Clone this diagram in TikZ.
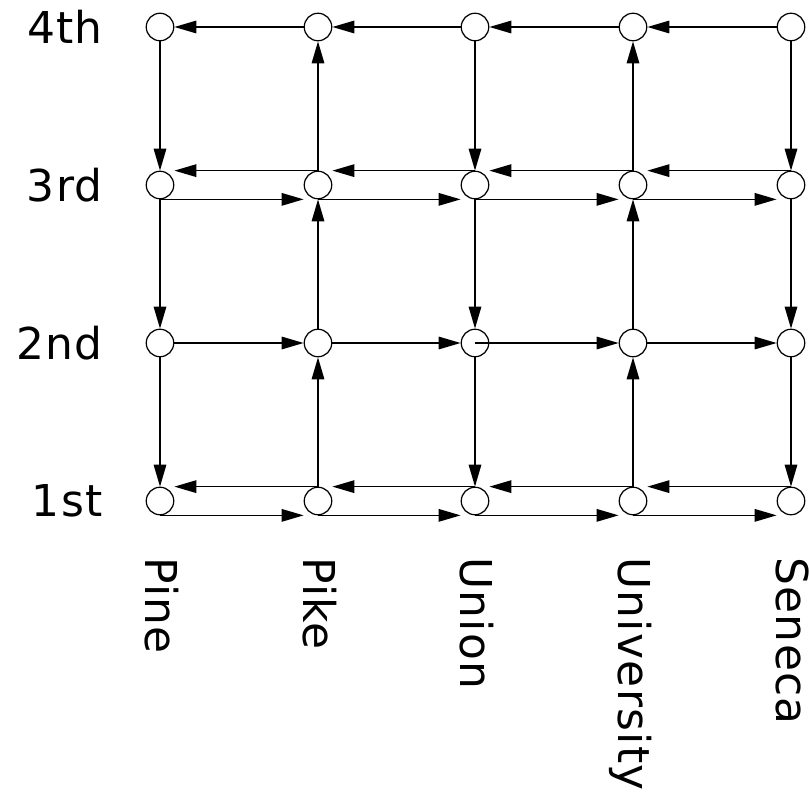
\documentclass[tikz,border=0pt]{standalone}
\usepackage{fontspec}
\setmainfont{DejaVu Sans}[LetterSpace=3]
\usetikzlibrary{arrows.meta}

\begin{document}
\begin{tikzpicture}[
    x=0.02cm, y=-0.02cm,
    corner/.style={circle, draw, line width=0.7pt, minimum size=0.55cm, inner sep=0pt},
    rowname/.style={anchor=east, inner sep=0pt, font=\fontsize{25}{30}\selectfont},
    colname/.style={rowname, anchor=base west, rotate=-90},
    arr/.style={-{Triangle[length=4.4mm, width=2.5mm]}, line width=0.9pt}
]
\useasboundingbox (0,0) rectangle (809,794);

% intersections
\foreach \s/\x in {pine/160, pike/318, union/475, univ/633, seneca/791}
  \foreach \a/\y in {4/27, 3/185, 2/343, 1/501}
    \node[corner] (\s\a) at (\x,\y) {};

% avenue and street names
\foreach \a/\t/\y in {4/4th/27, 3/3rd/185, 2/2nd/343, 1/1st/501}
  \node[rowname] (av\a) at (103,\y) {\t};
\foreach \s/\t/\x in {pine/Pine/160, pike/Pike/318, union/Union/475, univ/University/633, seneca/Seneca/791}
  \node[colname] (\s lbl) at (\x-15,557) {\t};

% one-way: 4th westbound, 2nd eastbound
\foreach \a/\b in {seneca/univ, univ/union, union/pike, pike/pine}
  \draw[arr] (\a4) -- (\b4);
\foreach \a/\b in {pine/pike, pike/union, univ/seneca}
  \draw[arr] (\a2) -- (\b2);
\draw[arr] (union2.center) -- (univ2.west);

% two-way: 3rd and 1st
\foreach \r in {3,1}{
  \foreach \a/\b in {seneca/univ, univ/union, union/pike, pike/pine}
    \draw[arr] (\a\r.north) -- (\a\r.north -| \b\r.east);
  \foreach \a/\b in {pine/pike, pike/union, union/univ, univ/seneca}
    \draw[arr] (\a\r.south) -- (\a\r.south -| \b\r.west);
}

% streets: Pine, Union, Seneca south; Pike, University north
\foreach \s in {pine, union, seneca}
  \foreach \a/\b in {4/3, 3/2, 2/1}
    \draw[arr] (\s\a) -- (\s\b);
\foreach \s in {pike, univ}
  \foreach \a/\b in {1/2, 2/3, 3/4}
    \draw[arr] (\s\a) -- (\s\b);
\end{tikzpicture}
\end{document}
